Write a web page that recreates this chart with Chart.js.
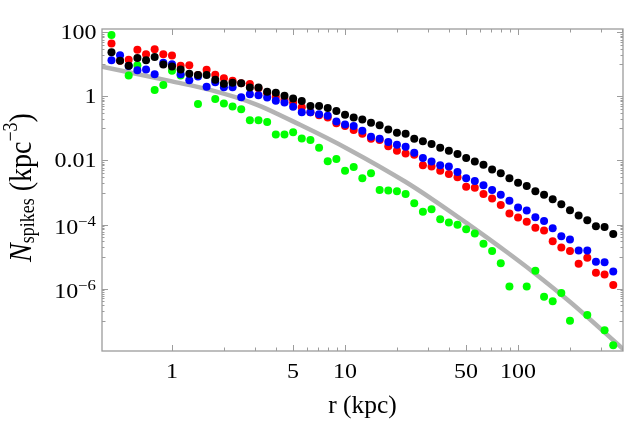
<!DOCTYPE html>
<html>
<head>
<meta charset="utf-8">
<script src="https://cdn.jsdelivr.net/npm/chart.js@4/dist/chart.umd.min.js"></script>
<style>
  html, body { margin: 0; padding: 0; background: #fff; }
  #wrap { width: 630px; height: 426px; }
</style>
</head>
<body>
<div id="wrap"><canvas id="myChart" width="630" height="426"></canvas></div>
<script>
// bin centres, r in kpc
const radii = [
  0.447, 0.501, 0.562, 0.631, 0.708, 0.794, 0.891, 1.000, 1.122, 1.259,
  1.413, 1.585, 1.778, 1.995, 2.239, 2.512, 2.818, 3.162, 3.548, 3.981,
  4.467, 5.012, 5.623, 6.310, 7.079, 7.943, 8.913, 10.00, 11.22, 12.59,
  14.13, 15.85, 17.78, 19.95, 22.39, 25.12, 28.18, 31.62, 35.48, 39.81,
  44.67, 50.12, 56.23, 63.10, 70.79, 79.43, 89.13, 100.0, 112.2, 125.9,
  141.3, 158.5, 177.8, 199.5, 223.9, 251.2, 281.8, 316.2, 354.8
];

const blackN = [
  24, 13, 9.1, 16, 13.5, 17, 10, 8.7, 6.9, 5.1,
  4.7, 4.7, 3.3, 2.5, 2.7, 2.6, 1.9, 1.9, 1.4, 1.3,
  1.05, 0.87, 0.72, 0.50, 0.50, 0.44, 0.35, 0.27, 0.22, 0.19,
  0.15, 0.126, 0.093, 0.074, 0.068, 0.048, 0.040, 0.033, 0.025, 0.020,
  0.016, 0.012, 0.0093, 0.0074, 0.0052, 0.0040, 0.0028, 0.0020, 0.0016, 0.0011,
  8.5e-4, 6.2e-4, 4.3e-4, 2.8e-4, 1.9e-4, 1.35e-4, 8.9e-5, 8.3e-5, 5.1e-5
];

const blueN = [
  13.5, 19.5, 8.9, 6.6, 6.9, 4.9, 11.2, 10.2, 4.9, 3.2,
  4.2, 2.0, 2.8, 1.95, 1.95, 0.95, 1.17, 1.1, 0.93, 0.74,
  0.65, 0.48, 0.32, 0.32, 0.28, 0.25, 0.166, 0.132, 0.12, 0.085,
  0.055, 0.048, 0.038, 0.031, 0.027, 0.0174, 0.012, 0.0093, 0.0071, 0.0065,
  0.0044, 0.0028, 0.0023, 0.0017, 0.0012, 8.5e-4, 5.5e-4, 3.4e-4, 2.75e-4, 1.7e-4,
  1.29e-4, 7.6e-5, 4.3e-5, 3.4e-5, 1.55e-5, 1.55e-5, 6.9e-6, 6.6e-6, 3.4e-6
];

const redN = [
  45, 13, 14, 29, 21, 30, 21, 19, 9.1, 9.5,
  4.7, 6.8, 4.8, 3.7, 3.1, 2.6, 2.45, 1.8, 1.25, 0.98,
  0.81, 0.65, 0.46, 0.32, 0.26, 0.22, 0.145, 0.12, 0.089, 0.069,
  0.048, 0.044, 0.028, 0.020, 0.0166, 0.015, 0.0071, 0.0065, 0.0048, 0.0038,
  0.0030, 0.0015, 0.0014, 8.9e-4, 6.5e-4, 4.1e-4, 2.2e-4, 1.66e-4, 1.23e-4, 7.9e-5,
  6.5e-5, 3.0e-5, 1.9e-5, 1.5e-5, 6.0e-6, 9.1e-6, 3.1e-6, 2.75e-6, 1.3e-6
];

const greenN = [
  83, null, 4.5, 9.5, null, 1.6, 2.3, 6.3, 4.5, null,
  0.58, null, 0.83, 0.60, 0.49, 0.40, 0.18, 0.18, 0.158, 0.065,
  0.065, 0.076, 0.049, 0.044, 0.025, 0.0095, 0.0112, 0.0048, 0.0063, 0.0028,
  0.0040, 0.0012, 0.00115, 0.0011, 8.9e-4, 4.6e-4, 2.5e-4, 3.0e-4, 1.45e-4, 1.15e-4,
  9.8e-5, 7.1e-5, 5.2e-5, 2.5e-5, 1.5e-5, 6.2e-6, 1.15e-6, null, 1.15e-6, 3.6e-6,
  5.5e-7, 4.0e-7, 7.2e-7, 9.8e-8, null, 1.5e-7, null, 5.0e-8, 1.7e-8
];

// grey model curve
const curveR = [0.394, 1.0, 1.66, 3.0, 5.5, 10.7, 22.2, 32.3, 50.5, 86, 122, 200, 404];
const curveN = [8.5, 2.95, 1.6, 0.59, 0.13, 0.021, 0.0022, 5.9e-4, 1.1e-4, 1.38e-5, 3.3e-6, 3.8e-7, 1.3e-8];

const xTickValues = [1, 5, 10, 50, 100];
const xTickText = ["1", "5", "10", "50", "100"];
const xMinorValues = [2, 3, 4, 6, 7, 8, 9, 20, 30, 40, 60, 70, 80, 90, 200, 300, 400];
const yTickValues = [1e2, 1, 1e-2, 1e-4, 1e-6];
const yTickText = ["100", "1", "0.01", "10^\u22124", "10^\u22126"];

const SERIF = "'Liberation Serif', 'Times New Roman', serif";
const STRETCH = 1.2;

const toPoints = (ys) =>
  radii.map((r, i) => ({ x: r, y: ys[i] })).filter((p) => p.y !== null);

const dots = (label, ys, color) => ({
  label,
  data: toPoints(ys),
  backgroundColor: color,
  borderWidth: 0,
  pointRadius: 4,
  pointHoverRadius: 4,
});

const stretchedText = (ctx, txt, x, y, align, font, sx = STRETCH) => {
  ctx.save();
  ctx.font = font;
  const w = ctx.measureText(txt).width * sx;
  let left = x;
  if (align === "right") left = x - w;
  if (align === "center") left = x - w / 2;
  ctx.translate(left, y);
  ctx.scale(sx, 1);
  ctx.textAlign = "left";
  ctx.fillText(txt, 0, 0);
  ctx.restore();
  return w;
};

const framePlugin = {
  id: "frame",
  afterDraw(chart) {
    const { ctx, chartArea: a, scales } = chart;
    const xs = scales.x, ys = scales.y;
    ctx.save();
    ctx.strokeStyle = "#9c9c9c";
    ctx.lineWidth = 1.3;
    ctx.strokeRect(a.left, a.top, a.right - a.left, a.bottom - a.top);

    ctx.lineWidth = 1;
    const vTick = (v, len) => {
      const px = Math.round(xs.getPixelForValue(v)) + 0.5;
      if (px < a.left || px > a.right) return;
      ctx.beginPath();
      ctx.moveTo(px, a.bottom); ctx.lineTo(px, a.bottom - len);
      ctx.moveTo(px, a.top); ctx.lineTo(px, a.top + len);
      ctx.stroke();
    };
    const hTick = (v, len) => {
      const py = Math.round(ys.getPixelForValue(v)) + 0.5;
      if (py < a.top || py > a.bottom) return;
      ctx.beginPath();
      ctx.moveTo(a.left, py); ctx.lineTo(a.left + len, py);
      ctx.moveTo(a.right, py); ctx.lineTo(a.right - len, py);
      ctx.stroke();
    };
    xTickValues.forEach((v) => vTick(v, 6));
    xMinorValues.forEach((v) => vTick(v, 3.5));
    yTickValues.forEach((v) => hTick(v, 6));
    // odd decades plus their multiples
    for (let e = 1; e >= -7; e -= 2) {
      for (let k = 1; k <= 9; k++) hTick(k * Math.pow(10, e), k === 1 ? 3.5 : 2.5);
    }

    // tick labels
    ctx.fillStyle = "#000";
    ctx.textBaseline = "alphabetic";
    xTickValues.forEach((v, i) => {
      stretchedText(ctx, xTickText[i], xs.getPixelForValue(v), 378, "center", `20px ${SERIF}`);
    });
    yTickValues.forEach((v, i) => {
      const py = ys.getPixelForValue(v);
      const t = yTickText[i];
      if (t.includes("^")) {
        const [base, sup] = t.split("^");
        ctx.font = `14px ${SERIF}`;
        const ws = ctx.measureText(sup).width * STRETCH;
        stretchedText(ctx, sup, 96, py + 1, "right", `14px ${SERIF}`);
        stretchedText(ctx, base, 96 - ws, py + 9, "right", `20px ${SERIF}`);
      } else {
        stretchedText(ctx, t, 96.5, py + 6.5, "right", `20px ${SERIF}`);
      }
    });

    // x axis title
    stretchedText(ctx, "r (kpc)", (a.left + a.right) / 2, 413, "center", `25px ${SERIF}`, 1.02);

    // y axis title, rotated
    ctx.save();
    ctx.translate(31, 262);
    ctx.rotate(-Math.PI / 2);
    ctx.scale(1, 1.15);
    const parts = [
      { t: "N", f: `italic 28px ${SERIF}`, dy: 0 },
      { t: "spikes", f: `18px ${SERIF}`, dy: 3 },
      { t: " (kpc", f: `28px ${SERIF}`, dy: 0 },
      { t: "\u22123", f: `18px ${SERIF}`, dy: -12 },
      { t: ")", f: `28px ${SERIF}`, dy: 0 },
    ];
    let cx = 0;
    parts.forEach((p) => {
      ctx.font = p.f;
      ctx.fillText(p.t, cx, p.dy);
      cx += ctx.measureText(p.t).width;
    });
    ctx.restore();
    ctx.restore();
  },
};

const ctx = document.getElementById("myChart").getContext("2d");
const chart = new Chart(ctx, {
  type: "scatter",
  data: {
    datasets: [
      dots("black", blackN, "#000000"),
      dots("blue", blueN, "#0000ff"),
      dots("red", redN, "#ff0000"),
      dots("green", greenN, "#00ff00"),
      {
        label: "model",
        data: curveR.map((r, i) => ({ x: r, y: curveN[i] })),
        showLine: true,
        borderColor: "#b3b3b3",
        borderWidth: 4.5,
        pointRadius: 0,
        cubicInterpolationMode: "monotone",
      },
    ],
  },
  options: {
    responsive: false,
    animation: false,
    layout: { padding: { left: 102, right: 7, top: 29, bottom: 75 } },
    plugins: { legend: { display: false }, tooltip: { enabled: false } },
    scales: {
      x: { type: "logarithmic", min: 0.394, max: 404, display: false },
      y: { type: "logarithmic", min: 1.12e-8, max: 128, display: false },
    },
  },
  plugins: [framePlugin],
});
</script>
</body>
</html>
